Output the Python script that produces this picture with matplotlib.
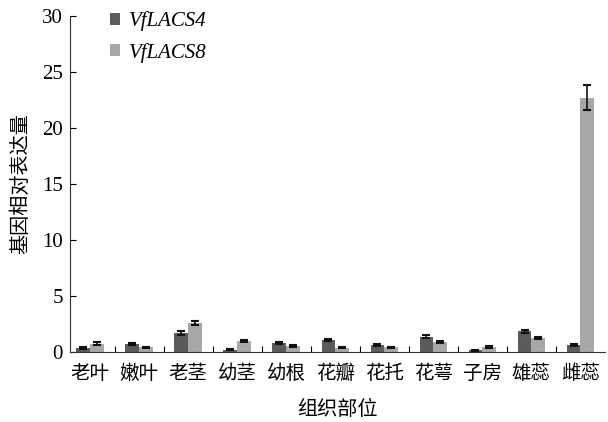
import numpy as np
import matplotlib.pyplot as plt

plt.rcParams['font.family'] = ['Liberation Serif', 'Noto Sans CJK SC']

# 数据
tissues = ['老叶', '嫩叶', '老茎', '幼茎', '幼根', '花瓣', '花托', '花萼', '子房', '雄蕊', '雌蕊']
lacs4 = [0.35, 0.72, 1.7, 0.18, 0.8, 1.1, 0.6, 1.35, 0.15, 1.85, 0.6]
lacs4_err = [0.1, 0.1, 0.15, 0.05, 0.1, 0.1, 0.08, 0.12, 0.05, 0.15, 0.1]
lacs8 = [0.75, 0.4, 2.6, 1.0, 0.55, 0.38, 0.42, 0.9, 0.45, 1.25, 22.7]
lacs8_err = [0.1, 0.08, 0.2, 0.1, 0.08, 0.06, 0.06, 0.1, 0.06, 0.1, 1.1]

x = np.arange(len(tissues))
w = 0.28

fig = plt.figure(figsize=(6.08, 4.22), dpi=100)
ax = fig.add_axes([0.115, 0.166, 0.88, 0.796])

ax.bar(x - w / 2, lacs4, w, color='#5b5b5b', label='VfLACS4',
       yerr=lacs4_err, error_kw=dict(ecolor='#111111', capsize=3, elinewidth=1.2, capthick=1.5))
ax.bar(x + w / 2, lacs8, w, color='#a8a8aa', label='VfLACS8',
       yerr=lacs8_err, error_kw=dict(ecolor='#111111', capsize=3, elinewidth=1.2, capthick=1.5))

ax.set_xlim(-0.41, 10.5)
ax.set_ylim(0, 30)
ax.set_yticks([0, 5, 10, 15, 20, 25, 30])
ax.tick_params(axis='y', direction='in', length=4, labelsize=15, width=0.8, pad=5)
ax.set_xticks(x)
ax.set_xticklabels(tissues, fontsize=14, family=['Noto Sans CJK SC'])
ax.tick_params(axis='x', length=0, pad=8)
ax.set_xticks(x[:-1] + 0.5, minor=True)
ax.tick_params(axis='x', which='minor', direction='in', length=4, width=0.8)

for s in ['top', 'right']:
    ax.spines[s].set_visible(False)
for s in ['left', 'bottom']:
    ax.spines[s].set_linewidth(0.8)
    ax.spines[s].set_color('#333333')

ax.set_xlabel('组织部位', fontsize=14.5, family=['Noto Sans CJK SC'], labelpad=11)
ax.set_ylabel('基因相对表达量', fontsize=14.5, family=['Noto Sans CJK SC'], labelpad=8)

leg = ax.legend(loc='upper left', bbox_to_anchor=(0.04, 1.07), frameon=False,
                prop={'family': 'Liberation Serif', 'style': 'italic', 'size': 15},
                handlelength=0.5, handleheight=0.5, handletextpad=0.4, labelspacing=0.55)

fig.savefig('out.png', dpi=100)
